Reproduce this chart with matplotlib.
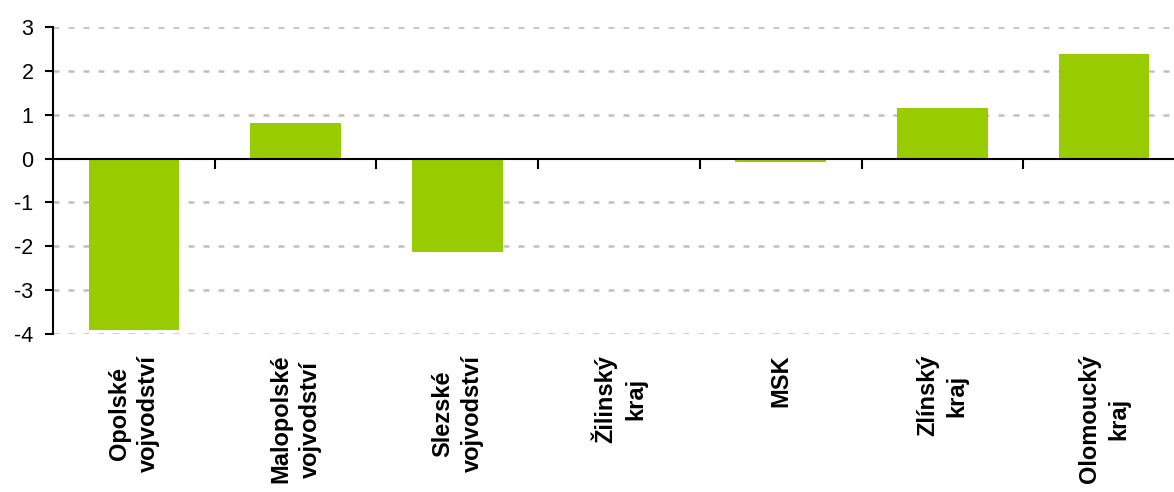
import matplotlib.pyplot as plt

plt.rcParams['font.family'] = ['Liberation Sans', 'DejaVu Sans']
plt.rcParams['lines.scale_dashes'] = False

regions = ["Opolské\nvojvodství", "Malopolské\nvojvodství", "Slezské\nvojvodství",
           "Žilinský\nkraj", "MSK", "Zlínský\nkraj", "Olomoucký\nkraj"]
values = [-3.92, 0.82, -2.12, 0.0, -0.08, 1.16, 2.39]
y_ticks = [-4, -3, -2, -1, 0, 1, 2, 3]

fig = plt.figure(figsize=(11.74, 4.92), dpi=100)
ax = fig.add_axes([53 / 1174, 1 - 334 / 492, (1185 - 53) / 1174, (334 - 27) / 492])

pos = list(range(len(regions)))
ax.bar(pos, values, width=0.56, color='#99CC00', zorder=2)

ax.set_xlim(-0.5, len(regions) - 0.5)
ax.set_ylim(-4, 3)
ax.set_yticks(y_ticks)
ax.set_yticklabels([str(t) for t in y_ticks], fontsize=15.5)
ax.tick_params(axis='y', length=6, width=1.5, pad=8, direction='out')

# dashed horizontal grid, the zero line is drawn by the secondary axis
for t in y_ticks:
    if t != 0:
        ax.axhline(t, color='#C0C0C0', lw=1.8, ls=(0, (4.3, 6.5)), zorder=1)

ax.set_xticks(pos)
ax.set_xticklabels(regions, rotation=90, fontsize=17, fontweight='bold',
                   ma='center', linespacing=1.35)
ax.tick_params(axis='x', length=0, pad=15)

for s in ['top', 'right', 'bottom']:
    ax.spines[s].set_visible(False)
ax.spines['left'].set_linewidth(1.5)

# category axis sitting on y=0 with boundary ticks pointing down
zero_ax = ax.secondary_xaxis(4 / 7)
zero_ax.set_xticks([p + 0.5 for p in pos[:-1]])
zero_ax.set_xticklabels([])
zero_ax.tick_params(length=7, width=1.5, direction='in')
for s in zero_ax.spines.values():
    s.set_linewidth(1.5)
zero_ax.set_zorder(3)

fig.savefig('out.png', dpi=100)
